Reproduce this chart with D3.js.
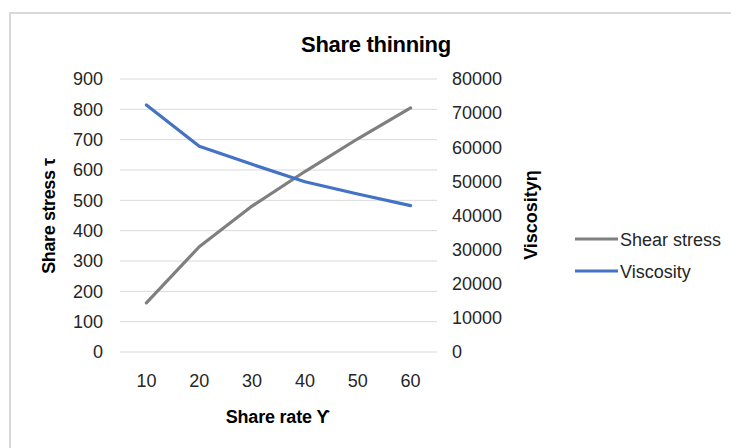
<!DOCTYPE html>
<html>
<head>
<meta charset="utf-8">
<script src="https://cdn.jsdelivr.net/npm/d3@7/dist/d3.min.js"></script>
<style>
  html, body { margin: 0; padding: 0; background: #fff; }
  svg { display: block; font-family: "Liberation Sans", Arial, sans-serif; }
</style>
</head>
<body>
<svg id="chart" width="731" height="448"></svg>
<script>
// Shear rate categories and measured series
const shearRates = ["10", "20", "30", "40", "50", "60"];
const shearStress = [162, 347, 481, 595, 703, 805];
const viscosity = [72400, 60300, 55000, 49900, 46300, 42900];

const leftTicks = [0, 100, 200, 300, 400, 500, 600, 700, 800, 900];
const rightTicks = [0, 10000, 20000, 30000, 40000, 50000, 60000, 70000, 80000];

const svg = d3.select("#chart");

// chart area frame
svg.append("rect")
  .attr("x", 10).attr("y", 13)
  .attr("width", 740).attr("height", 460)
  .attr("fill", "#fff")
  .attr("stroke", "#d9d9d9").attr("stroke-width", 2);

const plot = { left: 120, right: 437, top: 79, bottom: 352 };

const x = d3.scaleBand().domain(shearRates).range([plot.left, plot.right]);
const yL = d3.scaleLinear().domain([0, 900]).range([plot.bottom, plot.top]);
const yR = d3.scaleLinear().domain([0, 80000]).range([plot.bottom, plot.top]);

// horizontal gridlines
svg.append("g")
  .selectAll("line").data(leftTicks).join("line")
  .attr("x1", plot.left).attr("x2", plot.right)
  .attr("y1", d => yL(d)).attr("y2", d => yL(d))
  .attr("stroke", "#d9d9d9").attr("stroke-width", 1);

const tickFont = 18;
const tickColor = "#262626";
const fontStack = "Liberation Sans, Arial, sans-serif";

// left axis
const gL = svg.append("g")
  .attr("transform", `translate(${plot.left - 10},0)`)
  .call(d3.axisLeft(yL).tickValues(leftTicks).tickFormat(d3.format("d")).tickSize(0).tickPadding(7));
gL.select(".domain").remove();
gL.selectAll("text").attr("font-size", tickFont).attr("fill", tickColor)
  .attr("font-family", fontStack);

// right axis
const gR = svg.append("g")
  .attr("transform", `translate(${plot.right + 7},0)`)
  .call(d3.axisRight(yR).tickValues(rightTicks).tickFormat(d3.format("d")).tickSize(0).tickPadding(8));
gR.select(".domain").remove();
gR.selectAll("text").attr("font-size", tickFont).attr("fill", tickColor)
  .attr("font-family", fontStack);

// bottom axis
const gB = svg.append("g")
  .attr("transform", `translate(0,${plot.bottom + 12})`)
  .call(d3.axisBottom(x).tickSize(0).tickPadding(10));
gB.select(".domain").remove();
gB.selectAll("text").attr("font-size", tickFont).attr("fill", tickColor)
  .attr("font-family", fontStack);

// series lines
const cx = d => x(d) + x.bandwidth() / 2;
const lineL = d3.line().x((d, i) => cx(shearRates[i])).y(d => yL(d));
const lineR = d3.line().x((d, i) => cx(shearRates[i])).y(d => yR(d));

svg.append("path").datum(shearStress)
  .attr("d", lineL).attr("fill", "none")
  .attr("stroke", "#7f7f7f").attr("stroke-width", 3.2)
  .attr("stroke-linejoin", "round").attr("stroke-linecap", "round");

svg.append("path").datum(viscosity)
  .attr("d", lineR).attr("fill", "none")
  .attr("stroke", "#4472c4").attr("stroke-width", 3.2)
  .attr("stroke-linejoin", "round").attr("stroke-linecap", "round");

// titles
svg.append("text")
  .attr("x", 376).attr("y", 52)
  .attr("text-anchor", "middle")
  .attr("font-size", 22).attr("font-weight", "bold")
  .attr("letter-spacing", -0.3)
  .attr("fill", "#000")
  .text("Share thinning");

svg.append("text")
  .attr("x", 278).attr("y", 423)
  .attr("text-anchor", "middle")
  .attr("font-size", 18).attr("font-weight", "bold")
  .attr("letter-spacing", -0.2)
  .attr("fill", "#000")
  .text("Share rate Ƴ");

svg.append("text")
  .attr("transform", "translate(55,216) rotate(-90)")
  .attr("text-anchor", "middle")
  .attr("font-size", 18).attr("font-weight", "bold")
  .attr("letter-spacing", -0.4)
  .attr("fill", "#000")
  .text("Share stress τ");

svg.append("text")
  .attr("transform", "translate(537,215) rotate(-90)")
  .attr("text-anchor", "middle")
  .attr("font-size", 18).attr("font-weight", "bold")
  .attr("letter-spacing", 0)
  .attr("fill", "#000")
  .text("Viscosityη");

// legend
const legendItems = [
  { name: "Shear stress", color: "#7f7f7f" },
  { name: "Viscosity", color: "#4472c4" }
];
const lg = svg.append("g").selectAll("g").data(legendItems).join("g")
  .attr("transform", (d, i) => `translate(575,${239 + i * 32})`);
lg.append("line")
  .attr("x1", 0).attr("x2", 43).attr("y1", 0).attr("y2", 0)
  .attr("stroke", d => d.color).attr("stroke-width", 3);
lg.append("text")
  .attr("x", 45).attr("y", 6.5)
  .attr("font-size", 18)
  .attr("fill", tickColor)
  .text(d => d.name);
</script>
</body>
</html>
